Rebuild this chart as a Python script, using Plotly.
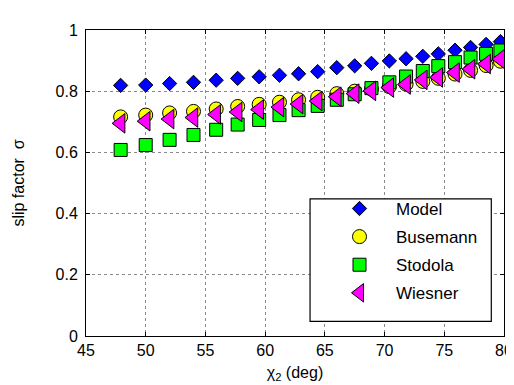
import plotly.graph_objects as go

chi2 = [47.9, 50.0, 52.0, 54.0, 55.9, 57.7, 59.5, 61.2, 62.8, 64.4, 66.0,
        67.5, 68.9, 70.4, 71.8, 73.2, 74.5, 75.9, 77.2, 78.5, 79.7]
model = [0.819, 0.820, 0.825, 0.829, 0.836, 0.842, 0.847, 0.852, 0.857, 0.864, 0.877,
         0.883, 0.891, 0.899, 0.906, 0.914, 0.922, 0.934, 0.943, 0.953, 0.962]
busemann = [0.716, 0.722, 0.729, 0.734, 0.742, 0.750, 0.757, 0.764, 0.772, 0.780, 0.792,
            0.800, 0.807, 0.815, 0.823, 0.832, 0.842, 0.856, 0.868, 0.884, 0.898]
stodola = [0.608, 0.624, 0.641, 0.657, 0.674, 0.691, 0.706, 0.722, 0.738, 0.752, 0.772,
           0.790, 0.810, 0.829, 0.848, 0.866, 0.882, 0.895, 0.910, 0.922, 0.933]
wiesner = [0.695, 0.702, 0.709, 0.714, 0.724, 0.732, 0.740, 0.748, 0.758, 0.768, 0.782,
           0.792, 0.801, 0.812, 0.822, 0.837, 0.845, 0.861, 0.872, 0.889, 0.905]

x_ticks = [45, 50, 55, 60, 65, 70, 75, 80]
y_ticks = [0, 0.2, 0.4, 0.6, 0.8, 1]
y_tick_text = ["0", "0.2", "0.4", "0.6", "0.8", "1"]

FONT = "Liberation Sans, Arial, Helvetica, sans-serif"

series = [
    ("Model", model, "diamond", "#0000FF", 11),
    ("Busemann", busemann, "circle", "#FFFF00", 14),
    ("Stodola", stodola, "square", "#00FF00", 13),
    ("Wiesner", wiesner, "triangle-left", "#FF00FF", 17),
]

fig = go.Figure()
for name, vals, sym, col, sz in series:
    fig.add_trace(go.Scatter(
        x=chi2, y=vals, mode="markers", name=name, legendgroup=name,
        marker=dict(symbol=sym, color=col, size=sz,
                    line=dict(color="black", width=1)),
    ))

# legend frame
fig.add_shape(type="rect", xref="paper", yref="paper",
              x0=0.536, x1=0.9696, y0=0.048, y1=0.448,
              fillcolor="white", line=dict(color="black", width=1.2),
              layer="above")

axis_common = dict(
    showline=True, linecolor="black", linewidth=1, mirror="ticks",
    ticks="inside", ticklen=4, tickcolor="black",
    showgrid=True, gridcolor="#8a8a8a", griddash="dot", gridwidth=1,
    zeroline=False, tickfont=dict(family=FONT, size=16, color="black"),
)

fig.update_layout(
    width=514, height=385,
    margin=dict(l=78, r=9, t=22, b=57),
    paper_bgcolor="white", plot_bgcolor="white",
    font=dict(family=FONT, size=16, color="black"),
    showlegend=True,
    legend=dict(x=0.567, y=0.474, xanchor="left", yanchor="top",
                bgcolor="rgba(0,0,0,0)", borderwidth=0,
                font=dict(family=FONT, size=17, color="black"),
                itemwidth=63, tracegroupgap=3, traceorder="grouped"),
    xaxis=dict(range=[45, 80], tickvals=x_ticks,
               title=dict(text="χ<sub>2</sub> (deg)", standoff=8,
                          font=dict(family=FONT, size=16)),
               **axis_common),
    yaxis=dict(range=[0, 1], tickvals=y_ticks, ticktext=y_tick_text,
               title=dict(text="slip factor  σ", standoff=26,
                          font=dict(family=FONT, size=16)),
               ticklabelstandoff=4,
               **axis_common),
)

fig.write_html("out.html")
